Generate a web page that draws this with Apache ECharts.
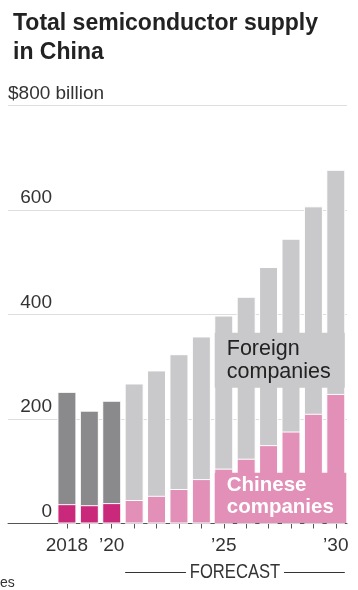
<!DOCTYPE html>
<html><head><meta charset="utf-8">
<script src="https://cdn.jsdelivr.net/npm/echarts@6/dist/echarts.min.js"></script>
<style>html,body{margin:0;padding:0;background:#fff}#c{width:358px;height:590px}</style>
</head><body><div id="c"></div>
<script>
// ---- data ----
const years = [2018, 2019, 2020, 2021, 2022, 2023, 2024, 2025, 2026, 2027, 2028, 2029, 2030];
const totalSupply = [252, 216, 235, 268, 293, 324, 358, 398, 434, 491, 545, 607, 677];
const chineseSupply = [37, 35, 39, 45, 53, 66, 85, 105, 124, 150, 176, 210, 248];
const forecastStartYear = 2021;
const yTickValues = [0, 200, 400, 600, 800];
const xLabelYears = [2018, 2020, 2025, 2030];
const xLabelTexts = ['2018', '\u201920', '\u201925', '\u201930'];

// ---- styles ----
const FONT = '"Liberation Sans", Arial, sans-serif';
const C = {
  histForeign: '#8a898c', histChinese: '#c9287b',
  fcForeign: '#c9c9cb', fcChinese: '#e290b7', text: '#222'
};

const chart = echarts.init(document.getElementById('c'), null, {renderer: 'canvas'});
const barW = 19;
const yMax = yTickValues[yTickValues.length - 1];

chart.setOption({
  animation: false,
  backgroundColor: '#fff',
  title: {
    text: 'Total semiconductor supply\nin China', left: 8, top: 4,
    textStyle: {fontFamily: FONT, fontSize: 23, fontWeight: 'bold', lineHeight: 29, color: C.text}
  },
  grid: {left: 8, right: 11, top: 105.5, bottom: 66.5, containLabel: false, outerBoundsMode: 'none'},
  xAxis: {
    type: 'value', min: 2015.37, max: 2030.5,
    splitLine: {show: false},
    axisLine: {show: true, lineStyle: {color: '#555', width: 1}},
    axisTick: {show: true, customValues: years, length: 5, lineStyle: {color: '#555'}},
    axisLabel: {
      customValues: xLabelYears, margin: 13, color: '#333', fontFamily: FONT, fontSize: 19,
      formatter: v => xLabelTexts[xLabelYears.indexOf(v)]
    }
  },
  yAxis: {
    type: 'value', min: 0, max: yMax, interval: 200,
    axisLine: {show: false}, axisTick: {show: false},
    splitLine: {lineStyle: {color: '#dedede', width: 1}},
    axisLabel: {
      inside: true, align: 'right', verticalAlign: 'bottom', margin: 44,
      color: '#333', fontFamily: FONT, fontSize: 19, lineHeight: 20, padding: [0, 0, 2, 0],
      formatter: v => v === yMax ? '' : String(v)
    }
  },
  series: [
    {
      type: 'bar', name: 'Total', barWidth: barW, barGap: '-100%',
      itemStyle: {borderColor: '#fff', borderWidth: 1},
      data: years.map((y, i) => ({value: [y, totalSupply[i]],
        itemStyle: {color: y < forecastStartYear ? C.histForeign : C.fcForeign}}))
    },
    {
      type: 'bar', name: 'Chinese', barWidth: barW, barGap: '-100%',
      itemStyle: {borderColor: '#fff', borderWidth: 1},
      data: years.map((y, i) => ({value: [y, chineseSupply[i]],
        itemStyle: {color: y < forecastStartYear ? C.histChinese : C.fcChinese}}))
    }
  ]
});

// ---- annotations positioned through the chart's own scales ----
const foreignLabelRange = [260, 365];
const chineseLabelRange = [0, 97];
const labelFromYear = 2025, labelToYear = 2030;
function px(x, y) { return chart.convertToPixel({gridIndex: 0}, [x, y]); }
const half = (barW - 1) / 2;
const bx0 = px(labelFromYear, 0)[0] - half, bx1 = px(labelToYear, 0)[0] + half;
const fTop = px(labelFromYear, foreignLabelRange[1])[1], fBot = px(labelFromYear, foreignLabelRange[0])[1];
const cTop = px(labelFromYear, chineseLabelRange[1])[1], cBot = px(labelFromYear, chineseLabelRange[0])[1];
const fx0 = px(forecastStartYear, 0)[0] - half, fx1 = px(years[years.length - 1], 0)[0] + half;
const fy = 572.5, fMid = (fx0 + fx1) / 2;
const topLineY = px(years[0], yMax)[1];

chart.setOption({
  graphic: [
    {type: 'text', z: 51, x: 8, y: topLineY - 2,
      style: {text: '$' + yMax + ' billion', fill: '#333', font: '19px ' + FONT, verticalAlign: 'bottom', lineHeight: 20}},
    {type: 'rect', z: 50, shape: {x: bx0, y: fTop, width: bx1 - bx0, height: fBot - fTop}, style: {fill: C.fcForeign}},
    {type: 'text', z: 51, x: bx0 + 12, y: fTop + 5,
      style: {text: 'Foreign\ncompanies', fill: '#222', font: '21.5px ' + FONT, lineHeight: 23}},
    {type: 'rect', z: 50, shape: {x: bx0, y: cTop, width: bx1 - bx0 + 1.5, height: cBot - cTop - 0.5}, style: {fill: C.fcChinese}},
    {type: 'text', z: 51, x: bx0 + 12, y: cTop + 2,
      style: {text: 'Chinese\ncompanies', fill: '#fff', font: 'bold 20.5px ' + FONT, lineHeight: 22}},
    {type: 'text', z: 51, x: fMid, y: fy, scaleX: 0.83,
      style: {text: 'FORECAST', fill: '#333', font: '20px ' + FONT, align: 'center', verticalAlign: 'middle'}},
    {type: 'line', z: 51, shape: {x1: fx0, y1: fy, x2: fMid - 49, y2: fy}, style: {stroke: '#333', lineWidth: 1}},
    {type: 'line', z: 51, shape: {x1: fMid + 49, y1: fy, x2: fx1, y2: fy}, style: {stroke: '#333', lineWidth: 1}},
    {type: 'text', z: 51, x: 0, y: 576, style: {text: 'es', fill: '#333', font: '14px ' + FONT}}
  ]
});
</script></body></html>
